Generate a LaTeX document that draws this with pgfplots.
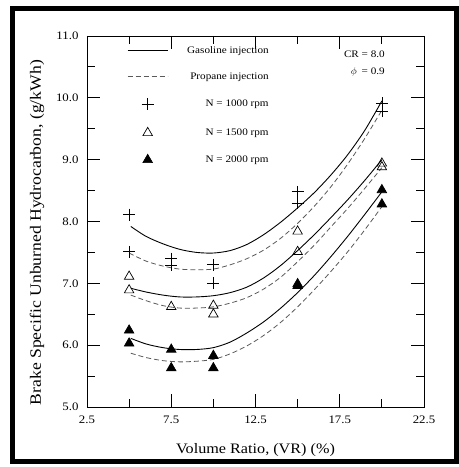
\documentclass[border=0pt]{standalone}
\usepackage{fontspec}
\setmainfont{Liberation Serif}[FakeStretch=1.12]
\usepackage{pgfplots}
\pgfplotsset{compat=1.18}
\begin{document}
\begin{tikzpicture}
\begin{axis}[
 scale only axis, width=337bp, height=371bp,
 xmin=2.5, xmax=22.5, ymin=5, ymax=11,
 xtick={2.5,7.5,12.5,17.5,22.5},
 minor xtick={5,10,15,20},
 ytick={5,6,...,11},
 minor ytick={5.5,6.5,7.5,8.5,9.5,10.5},
 tick align=inside,
 major tick length=13bp, minor tick length=8bp,
 tick style={black, line width=0.9bp},
 axis line style={line width=0.9bp},
 /pgf/number format/.cd, fixed, fixed zerofill, precision=1, assume math mode=true, /pgfplots/.cd,
 tick label style={font=\fontsize{11.5}{13}\selectfont},
 xticklabel style={yshift=-5bp},
 yticklabel style={xshift=-5bp},
 xlabel={Volume Ratio, (VR) (\%)},
 ylabel={Brake Specific Unburned Hydrocarbon, (g/kWh)},
 xlabel style={font=\fontsize{14.5}{16}\selectfont, at={(axis description cs:0.5,-0.116)}, anchor=center},
 ylabel style={font=\fontsize{15.8}{17}\selectfont, at={(axis description cs:-0.148,0.47)}, anchor=center},
 legend cell align=right,
 legend style={draw=none, fill=none, at={(axis description cs:0.11,0.978)}, anchor=north west,
   font=\fontsize{10}{12}\selectfont, row sep=17bp, column sep=19bp,
   nodes={inner sep=0pt, text height=7bp, text depth=2bp}},
]
\addlegendimage{legend image code/.code={\draw[black, line width=0.9bp] (0bp,0bp) -- (40bp,0bp);}}
\addlegendentry{Gasoline injection}
\addlegendimage{legend image code/.code={\draw[gray!70!black, line width=0.8bp, dash pattern=on 5bp off 3bp] (0bp,0bp) -- (40bp,0bp);}}
\addlegendentry{Propane injection}
\addlegendimage{legend image code/.code={\draw[black, line width=0.7bp] plot[only marks, mark=+, mark size=6bp] coordinates {(20bp,0bp)}; \path (0bp,0bp) (40bp,0bp);}}
\addlegendentry{N = 1000 rpm}
\addlegendimage{legend image code/.code={\draw[black, line width=0.7bp] plot[only marks, mark=triangle, mark size=5.5bp] coordinates {(20bp,0bp)}; \path (0bp,0bp) (40bp,0bp);}}
\addlegendentry{N = 1500 rpm}
\addlegendimage{legend image code/.code={\draw[black, fill=black, line width=0.7bp] plot[only marks, mark=triangle*, mark size=5.5bp] coordinates {(20bp,0bp)}; \path (0bp,0bp) (40bp,0bp);}}
\addlegendentry{N = 2000 rpm}

% Gasoline injection (solid)
\addplot[black, line width=0.9bp, smooth, forget plot] coordinates {
 (5.1,7.92)(6,7.76)(7,7.64)(8,7.55)(9,7.50)(10,7.49)(11,7.53)(12,7.63)(13,7.79)(14,7.99)(15,8.22)(16,8.47)(17,8.76)(18,9.09)(19,9.48)(20,9.95)};
\addplot[black, line width=0.9bp, smooth, forget plot] coordinates {
 (5.1,6.92)(6,6.86)(7,6.81)(8,6.78)(9,6.78)(10,6.80)(11,6.85)(12,6.94)(13,7.09)(14,7.29)(15,7.53)(16,7.79)(17,8.07)(18,8.36)(19,8.67)(20,9.00)};
\addplot[black, line width=0.9bp, smooth, forget plot] coordinates {
 (5.1,6.11)(6,6.02)(7,5.96)(8,5.93)(9,5.93)(10,5.96)(11,6.05)(12,6.20)(13,6.38)(14,6.60)(15,6.85)(16,7.13)(17,7.44)(18,7.77)(19,8.12)(20,8.48)};
% Propane injection (dashed)
\addplot[gray!70!black, line width=0.8bp, dash pattern=on 5bp off 3bp, smooth, forget plot] coordinates {
 (5,7.49)(6,7.36)(7,7.28)(8,7.23)(9,7.22)(10,7.23)(11,7.30)(12,7.40)(13,7.54)(14,7.73)(15,7.97)(16,8.25)(17,8.57)(18,8.94)(19,9.35)(20,9.80)};
\addplot[gray!70!black, line width=0.8bp, dash pattern=on 5bp off 3bp, smooth, forget plot] coordinates {
 (5.1,6.81)(6,6.72)(7,6.64)(8,6.60)(9,6.60)(10,6.62)(11,6.68)(12,6.77)(13,6.91)(14,7.10)(15,7.35)(16,7.62)(17,7.92)(18,8.22)(19,8.54)(20,8.87)};
\addplot[gray!70!black, line width=0.8bp, dash pattern=on 5bp off 3bp, smooth, forget plot] coordinates {
 (5.1,5.87)(6,5.80)(7,5.75)(8,5.73)(9,5.74)(10,5.77)(11,5.86)(12,5.99)(13,6.16)(14,6.37)(15,6.62)(16,6.90)(17,7.20)(18,7.52)(19,7.87)(20,8.24)};
% markers
\addplot[only marks, mark=+, mark size=6bp, black, line width=0.7bp, forget plot] coordinates {
 (5,8.11)(5,7.51)(7.5,7.40)(7.5,7.29)(10,7.30)(10,7.00)(15,8.48)(15,8.30)(20,9.91)(20,9.78)};
\addplot[only marks, mark=triangle, mark size=5.5bp, black, line width=0.7bp, forget plot] coordinates {
 (5,7.11)(5,6.89)(7.5,6.62)(10,6.64)(10,6.50)(15,7.84)(15,7.51)(20,8.94)(20,8.88)};
\addplot[only marks, mark=triangle*, mark size=5.5bp, black, fill=black, line width=0.7bp, forget plot] coordinates {
 (5,6.24)(5,6.03)(7.5,5.93)(7.5,5.63)(10,5.83)(10,5.63)(15,6.99)(15,6.96)(20,8.51)(20,8.28)};

\node[anchor=east, font=\fontsize{10}{12}\selectfont] at (axis cs:20.38,10.71) {CR = 8.0};
\node[anchor=east, font=\fontsize{10}{12}\selectfont] at (axis cs:20.38,10.42) {$\phi$\enspace= 0.9};
\end{axis}
\draw[line width=5bp] ([xshift=-74.5bp,yshift=-54.5bp]current axis.south west) rectangle ([xshift=32bp,yshift=27.5bp]current axis.north east);
\path ([xshift=-87bp,yshift=-60bp]current axis.south west) rectangle ([xshift=34bp,yshift=36bp]current axis.north east);
\end{tikzpicture}
\end{document}
